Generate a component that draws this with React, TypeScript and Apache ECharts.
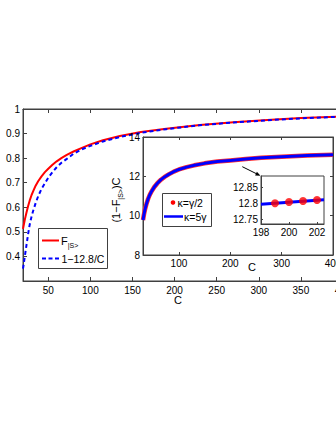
import React, { useEffect, useRef } from "react";
import * as echarts from "echarts";

// ---------- data ----------
const mainC = [20, 21, 22, 23, 24, 26, 28, 30, 32, 35, 38, 42, 46, 50, 55, 60, 66, 72, 80, 90, 100, 115, 135, 160, 190, 230, 270, 310, 350, 400];
const fidelityMain = [0.512, 0.53, 0.547, 0.562, 0.577, 0.604, 0.628, 0.648, 0.665, 0.688, 0.706, 0.726, 0.743, 0.757, 0.773, 0.787, 0.801, 0.813, 0.827, 0.842, 0.856, 0.873, 0.89, 0.906, 0.92, 0.935, 0.946, 0.955, 0.963, 0.97];
const approxMain = [0.35, 0.372, 0.397, 0.42, 0.443, 0.49, 0.53, 0.56, 0.585, 0.617, 0.645, 0.675, 0.698, 0.72, 0.743, 0.763, 0.782, 0.797, 0.818, 0.836, 0.85, 0.868, 0.886, 0.903, 0.918, 0.934, 0.945, 0.954, 0.962, 0.969];

const insetC = [30, 32, 34, 37, 40, 43, 47, 52, 58, 65, 72, 80, 90, 100, 115, 130, 150, 175, 200, 230, 260, 300, 350, 400];
const kappaHalf = [9.78, 10.08, 10.33, 10.62, 10.86, 11.05, 11.25, 11.46, 11.65, 11.83, 11.97, 12.1, 12.24, 12.35, 12.47, 12.56, 12.66, 12.75, 12.81, 12.88, 12.94, 13.0, 13.06, 13.1];
const kappaFive = [9.78, 10.08, 10.33, 10.62, 10.86, 11.05, 11.25, 11.46, 11.65, 11.83, 11.97, 12.1, 12.24, 12.35, 12.47, 12.56, 12.66, 12.75, 12.81, 12.88, 12.94, 13.0, 13.06, 13.1];

const zoomDotC = [199, 200, 201, 202];
const zoomDotHalf = [12.8, 12.804, 12.807, 12.81];
const zoomLineC = [198, 202.5];
const zoomLineFive = [12.797, 12.811];

const mainXTicks = [50, 100, 150, 200, 250, 300, 350, 400];
const mainYTicks = [0.4, 0.5, 0.6, 0.7, 0.8, 0.9, 1];
const insetXTicks = [100, 200, 300, 400];
const insetYTicks = [8, 10, 12, 14];
const zoomXTicks = [198, 200, 202];
const zoomYTicks = [12.75, 12.8, 12.85];
const zoomBoxC = [178, 223];
const zoomBoxV = [12.5, 13.43];

const FONT = "'Liberation Sans', Arial, Helvetica, sans-serif";
const AX = "#404040";

function xAx(gridIndex: number, min: number, max: number, ticks: number[], opts: any = {}) {
  const top = opts.position === "top";
  return {
    type: "value",
    gridIndex,
    min,
    max,
    position: opts.position || "bottom",
    z: opts.z ?? 0,
    axisLine: { show: true, onZero: false, lineStyle: { color: AX, width: 1 } },
    axisTick: { show: true, inside: true, length: opts.tickLen ?? 4, customValues: ticks, lineStyle: { color: AX } },
    axisLabel: top
      ? { show: false }
      : { show: true, customValues: ticks, color: "#000", fontSize: 10, fontFamily: FONT, margin: opts.margin ?? 4 },
    splitLine: { show: false },
  };
}

function yAx(gridIndex: number, min: number, max: number, ticks: number[], opts: any = {}) {
  const right = opts.position === "right";
  return {
    type: "value",
    gridIndex,
    min,
    max,
    position: opts.position || "left",
    z: opts.z ?? 0,
    axisLine: { show: true, onZero: false, lineStyle: { color: AX, width: 1 } },
    axisTick: { show: true, inside: true, length: opts.tickLen ?? 4, customValues: ticks, lineStyle: { color: AX } },
    axisLabel: right
      ? { show: false }
      : { show: true, customValues: ticks, color: "#000", fontSize: 10, fontFamily: FONT, margin: opts.margin ?? 3 },
    splitLine: { show: false },
  };
}

const subRich = (size: number) => ({
  a: { fontSize: size, fontFamily: FONT, color: "#000", lineHeight: 16, verticalAlign: "middle" },
  s: { fontSize: 7, fontFamily: FONT, color: "#000", lineHeight: 7, verticalAlign: "bottom" },
});

export default function App() {
  const ref = useRef<HTMLDivElement>(null);
  useEffect(() => {
    if (!ref.current) return;
    const chart = echarts.init(ref.current, undefined, { renderer: "svg" });
    const option: any = {
      animation: false,
      backgroundColor: "#fff",
      textStyle: { fontFamily: FONT },
      grid: [
        { left: 23, top: 109, width: 320, height: 172, show: true, backgroundColor: "transparent", borderColor: AX, borderWidth: 1, z: 0, containLabel: false, outerBoundsMode: "none" },
        { left: 143, top: 137, width: 190, height: 118, show: true, backgroundColor: "#fff", borderColor: AX, borderWidth: 1, z: 3, containLabel: false, outerBoundsMode: "none" },
        { left: 261, top: 176, width: 63, height: 48, show: true, backgroundColor: "#fff", borderColor: AX, borderWidth: 1, z: 6, containLabel: false, outerBoundsMode: "none" },
      ],
      xAxis: [
        xAx(0, 20, 400, mainXTicks, { margin: 4 }),
        xAx(0, 20, 400, mainXTicks, { position: "top" }),
        xAx(1, 30, 400, insetXTicks, { z: 4, tickLen: 3, margin: 3 }),
        xAx(1, 30, 400, insetXTicks, { z: 4, tickLen: 3, position: "top" }),
        xAx(2, 198, 202.5, zoomXTicks, { z: 7, tickLen: 2, margin: 3 }),
      ],
      yAxis: [
        yAx(0, 0.3, 1, mainYTicks, { margin: 3 }),
        yAx(1, 8, 14, insetYTicks, { z: 4, tickLen: 3 }),
        yAx(1, 8, 14, insetYTicks, { z: 4, tickLen: 3, position: "right" }),
        yAx(2, 12.735, 12.885, zoomYTicks, { z: 7, tickLen: 2 }),
      ],
      series: [
        {
          type: "line", xAxisIndex: 0, yAxisIndex: 0, z: 2,
          data: mainC.map((c, i) => [c, fidelityMain[i]]),
          showSymbol: false, symbol: "none", smooth: false,
          lineStyle: { color: "#ff0000", width: 2 }, silent: true,
        },
        {
          type: "line", xAxisIndex: 0, yAxisIndex: 0, z: 2,
          data: mainC.map((c, i) => [c, approxMain[i]]),
          showSymbol: false, symbol: "none", smooth: false,
          lineStyle: { color: "#0000ff", width: 2, type: [4, 3] }, silent: true,
        },
        {
          type: "line", xAxisIndex: 2, yAxisIndex: 1, z: 5,
          data: insetC.map((c, i) => [c, kappaHalf[i]]),
          showSymbol: false, symbol: "none", smooth: false,
          lineStyle: { color: "#ff3030", width: 4.5 }, silent: true,
        },
        {
          type: "line", xAxisIndex: 2, yAxisIndex: 1, z: 5,
          data: insetC.map((c, i) => [c, kappaFive[i]]),
          showSymbol: false, symbol: "none", smooth: false,
          lineStyle: { color: "#0000ff", width: 3 }, silent: true,
          markArea: {
            silent: true,
            label: { show: false },
            itemStyle: { color: "rgba(0,0,0,0)", borderColor: "#808080", borderWidth: 1 },
            data: [[{ coord: [zoomBoxC[0], zoomBoxV[0]] }, { coord: [zoomBoxC[1], zoomBoxV[1]] }]],
          },
        },
        {
          type: "line", xAxisIndex: 4, yAxisIndex: 3, z: 8,
          data: zoomLineC.map((c, i) => [c, zoomLineFive[i]]),
          showSymbol: false, symbol: "none",
          lineStyle: { color: "#0000ff", width: 3 }, silent: true,
        },
        {
          type: "scatter", xAxisIndex: 4, yAxisIndex: 3, z: 9,
          data: zoomDotC.map((c, i) => [c, zoomDotHalf[i]]),
          symbol: "circle", symbolSize: 8,
          itemStyle: { color: "#ff0000" }, silent: true,
        },
      ],
      graphic: [
        // main legend
        { type: "rect", z: 10, shape: { x: 38.5, y: 228.5, width: 69, height: 40 }, style: { fill: "#fff", stroke: AX, lineWidth: 1 } },
        { type: "line", z: 11, shape: { x1: 42, y1: 240.5, x2: 59, y2: 240.5 }, style: { stroke: "#ff0000", lineWidth: 2 } },
        { type: "text", z: 11, x: 61, y: 241, style: { text: "{a|F}{s||S>}", rich: subRich(11), verticalAlign: "middle", align: "left" } },
        { type: "line", z: 11, shape: { x1: 42, y1: 258.5, x2: 60, y2: 258.5 }, style: { stroke: "#0000ff", lineWidth: 2, lineDash: [4, 2.5] } },
        { type: "text", z: 11, x: 61.5, y: 259, style: { text: "1\u221212.8/C", fontSize: 10.5, fontFamily: FONT, fill: "#000", verticalAlign: "middle", align: "left" } },
        // inset legend
        { type: "rect", z: 10, shape: { x: 162.5, y: 193.5, width: 49, height: 33 }, style: { fill: "#fff", stroke: AX, lineWidth: 1 } },
        { type: "circle", z: 11, shape: { cx: 173, cy: 202.5, r: 2.3 }, style: { fill: "#ff0000" } },
        { type: "text", z: 11, x: 177.5, y: 203, style: { text: "\u03ba=\u03b3/2", fontSize: 10.5, fontFamily: FONT, fill: "#000", verticalAlign: "middle", align: "left" } },
        { type: "line", z: 11, shape: { x1: 164, y1: 216.5, x2: 183, y2: 216.5 }, style: { stroke: "#0000ff", lineWidth: 2.5 } },
        { type: "text", z: 11, x: 184, y: 217, style: { text: "\u03ba=5\u03b3", fontSize: 10.5, fontFamily: FONT, fill: "#000", verticalAlign: "middle", align: "left" } },
        // inset y-axis name
        { type: "text", z: 11, x: 116, y: 200, rotation: Math.PI / 2, style: { text: "{a|(1\u2212F}{s||S>}{a|)C}", rich: subRich(11), verticalAlign: "middle", align: "center" } },
        // axis names
        { type: "text", z: 11, x: 178, y: 300, style: { text: "C", fontSize: 11, fontFamily: FONT, fill: "#000", verticalAlign: "middle", align: "center" } },
        { type: "text", z: 11, x: 252, y: 267, style: { text: "C", fontSize: 11, fontFamily: FONT, fill: "#000", verticalAlign: "middle", align: "center" } },
        // arrow from zoom box to magnified inset
        { type: "line", z: 11, shape: { x1: 242.3, y1: 166.7, x2: 257, y2: 174 }, style: { stroke: "#000", lineWidth: 1 } },
        { type: "polygon", z: 11, shape: { points: [[260.5, 175.8], [255.1, 175.4], [256.9, 171.8]] }, style: { fill: "#000" } },
      ],
    };
    chart.setOption(option);
    return () => chart.dispose();
  }, []);
  return <div ref={ref} style={{ position: "absolute", left: 0, top: 0, width: 336, height: 435 }} />;
}
